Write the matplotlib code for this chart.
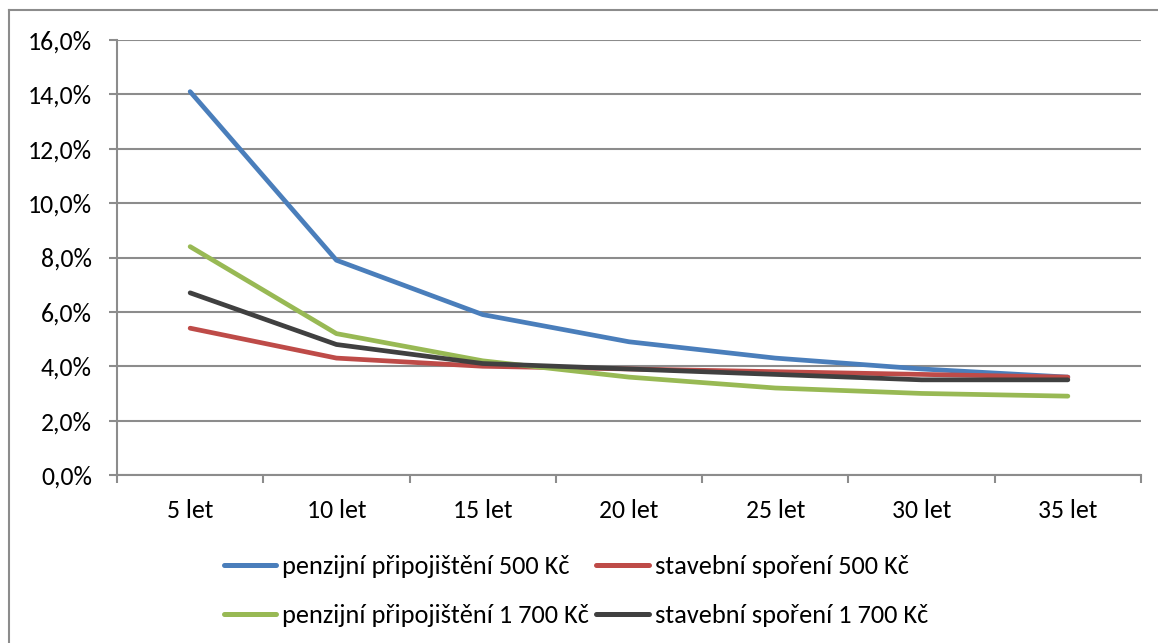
import matplotlib.pyplot as plt
from matplotlib.lines import Line2D
from matplotlib.ticker import FixedLocator, FuncFormatter

# categories (savings period) and yields in percent
periods = ['5 let', '10 let', '15 let', '20 let', '25 let', '30 let', '35 let']
penzijni_500 = [14.1, 7.9, 5.9, 4.9, 4.3, 3.9, 3.6]
stavebni_500 = [5.4, 4.3, 4.0, 3.9, 3.8, 3.7, 3.6]
penzijni_1700 = [8.4, 5.2, 4.2, 3.6, 3.2, 3.0, 2.9]
stavebni_1700 = [6.7, 4.8, 4.1, 3.9, 3.7, 3.5, 3.5]

series = [
    ('penzijní připojištění 500 Kč', penzijni_500, '#4A7EBB'),
    ('stavební spoření 500 Kč', stavebni_500, '#BE4B48'),
    ('penzijní připojištění 1 700 Kč', penzijni_1700, '#98B954'),
    ('stavební spoření 1 700 Kč', stavebni_1700, '#404040'),
]

plt.rcParams['font.family'] = ['Carlito', 'DejaVu Sans']
grey = '#8c8c8c'

fig = plt.figure(figsize=(11.58, 6.43), dpi=100)
ax = fig.add_axes([117 / 1158, 1 - 475 / 643, (1141 - 117) / 1158, (475 - 40) / 643])

x = list(range(len(periods)))
for label, values, color in series:
    ax.plot(x, values, color=color, lw=3.4, label=label, solid_capstyle='round',
            solid_joinstyle='round')

ax.set_ylim(0, 16)
ax.set_xlim(-0.5, len(periods) - 0.5)
ax.set_yticks(range(0, 17, 2))
ax.yaxis.set_major_formatter(FuncFormatter(lambda v, p: f'{v:.1f}%'.replace('.', ',')))
ax.grid(axis='y', color=grey, lw=1.5)
ax.set_axisbelow(True)

# tick marks between categories, labels at category centres
ax.xaxis.set_major_locator(FixedLocator([i - 0.5 for i in range(len(periods) + 1)]))
ax.xaxis.set_major_formatter(FuncFormatter(lambda v, p: ''))
ax.xaxis.set_minor_locator(FixedLocator(x))
ax.set_xticklabels(periods, minor=True)
ax.tick_params(axis='x', which='minor', length=0, pad=17, labelsize=18.5, colors='black')
ax.tick_params(axis='x', which='major', length=6, width=1.5, color=grey)
ax.tick_params(axis='y', length=6, width=1.5, color=grey, pad=12, labelsize=18.5)

for side in ['top', 'right']:
    ax.spines[side].set_visible(False)
for side in ['left', 'bottom']:
    ax.spines[side].set_color(grey)
    ax.spines[side].set_linewidth(1.5)

# legend filled column by column: pension plans left, building savings right
order = [0, 2, 1, 3]
handles = [Line2D([], [], color=series[i][2], lw=3.6, solid_capstyle='round') for i in order]
labels = [series[i][0] for i in order]
fig.legend(handles, labels, ncol=2, loc='center',
           bbox_to_anchor=(576 / 1158, 1 - 591 / 643), frameon=False, fontsize=19,
           handlelength=2.0, handletextpad=0.23, columnspacing=0.27, labelspacing=0.98,
           borderpad=0)

# chart border
fig.add_artist(Line2D([8.5 / 1158, 8.5 / 1158], [0, 1 - 10 / 643], color=grey, lw=1.5))
fig.add_artist(Line2D([8.5 / 1158, 1], [1 - 10 / 643, 1 - 10 / 643], color=grey, lw=1.5))

plt.savefig('out.png', dpi=100)
